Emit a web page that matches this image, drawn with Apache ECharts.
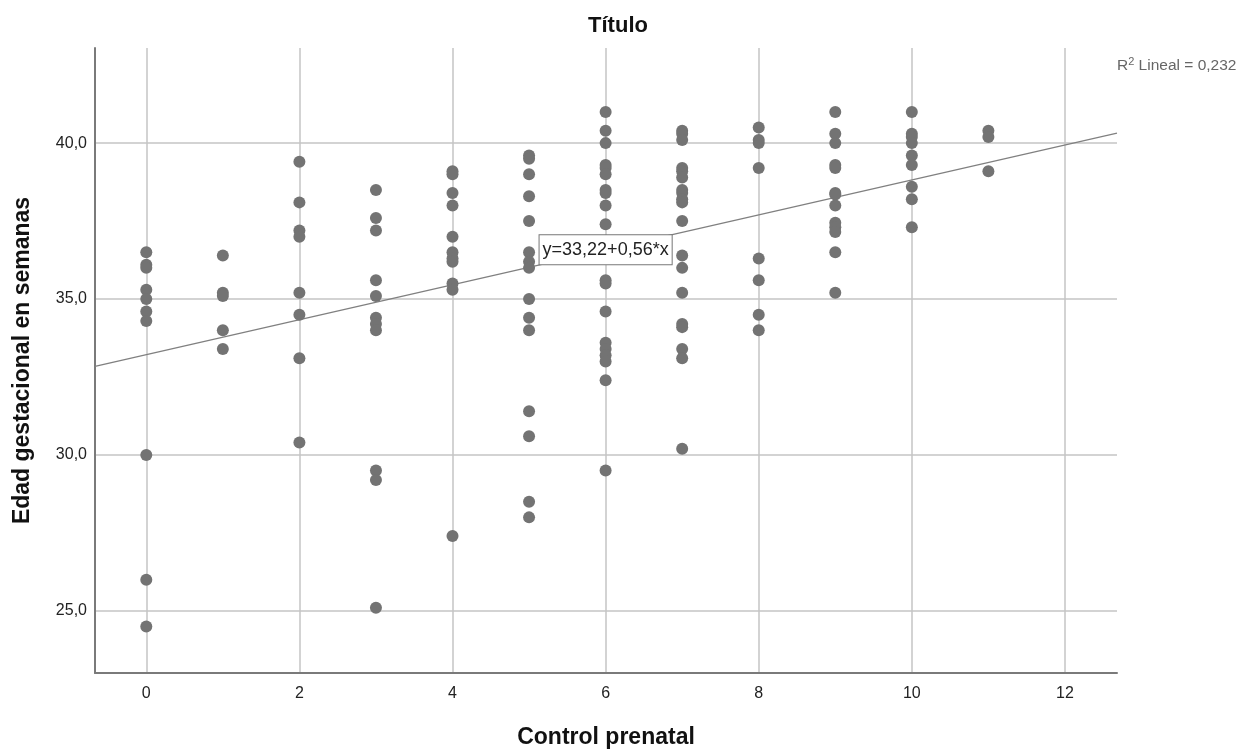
<!DOCTYPE html>
<html>
<head>
<meta charset="utf-8">
<title>Título</title>
<script src="https://cdn.jsdelivr.net/npm/echarts@6/dist/echarts.min.js"></script>
<style>
  html, body { margin: 0; padding: 0; background: #fff; }
  #main { width: 1258px; height: 751px; }
</style>
</head>
<body>
<div id="main"></div>
<script>
// Control prenatal (numero de controles) y edad gestacional en semanas
const controles = [0, 1, 2, 3, 4, 5, 6, 7, 8, 9, 10, 11];
const edad0 = [36.5, 36.1, 36.0, 35.3, 35.0, 34.6, 34.3, 30.0, 26.0, 24.5];
const edad1 = [36.4, 35.2, 35.1, 34.0, 33.4];
const edad2 = [39.4, 38.1, 37.2, 37.0, 35.2, 34.5, 33.1, 30.4];
const edad3 = [38.5, 37.6, 37.2, 35.6, 35.1, 34.4, 34.2, 34.0, 29.5, 29.2, 25.1];
const edad4 = [39.1, 39.0, 38.4, 38.0, 37.0, 36.5, 36.3, 36.2, 35.5, 35.3, 27.4];
const edad5 = [39.6, 39.5, 39.0, 38.3, 37.5, 36.5, 36.2, 36.0, 35.0, 34.4, 34.0, 31.4, 30.6, 28.5, 28.0];
const edad6 = [41.0, 40.4, 40.0, 39.3, 39.2, 39.0, 38.5, 38.4, 38.0, 37.4, 35.6, 35.5, 34.6, 33.6, 33.4, 33.2, 33.0, 32.4, 29.5];
const edad7 = [40.4, 40.3, 40.1, 39.2, 39.1, 38.9, 38.5, 38.4, 38.2, 38.1, 37.5, 36.4, 36.0, 35.2, 34.2, 34.1, 33.4, 33.1, 30.2];
const edad8 = [40.5, 40.1, 40.0, 39.2, 36.3, 35.6, 34.5, 34.0];
const edad9 = [41.0, 40.3, 40.0, 39.3, 39.2, 38.4, 38.35, 38.0, 37.45, 37.3, 37.15, 36.5, 35.2];
const edad10 = [41.0, 40.3, 40.2, 40.0, 39.6, 39.3, 38.6, 38.2, 37.3];
const edad11 = [40.4, 40.2, 39.1];
const edadPorControl = [edad0, edad1, edad2, edad3, edad4, edad5, edad6, edad7, edad8, edad9, edad10, edad11];

// recta de ajuste lineal
const intercepto = 33.22;
const pendiente = 0.56;
const r2 = '0,232';
const xMin = -0.67, xMax = 12.68;
const yMin = 23.01, yMax = 43.05;

const puntos = [];
controles.forEach(function (c, i) {
  edadPorControl[i].forEach(function (v) { puntos.push([c, v]); });
});
const recta = [xMin, xMax].map(function (x) { return [x, intercepto + pendiente * x]; });

const fmtComa = function (v) { return v.toFixed(1).replace('.', ','); };
const fuente = 'Liberation Sans, Arial, sans-serif';

const chart = echarts.init(document.getElementById('main'));
chart.setOption({
  animation: false,
  textStyle: { fontFamily: fuente },
  title: {
    text: 'Título',
    left: 613,
    top: 10,
    textAlign: 'center',
    textStyle: { fontSize: 22, fontWeight: 'bold', color: '#111', fontFamily: fuente }
  },
  graphic: [{
    type: 'text',
    left: 1117,
    top: 56,
    style: {
      text: '{a|R}{b|2}{a| Lineal = ' + r2 + '}',
      rich: {
        a: { fontSize: 15.5, fill: '#666', fontFamily: fuente },
        b: { fontSize: 11, fill: '#666', padding: [0, 0, 8, 0], fontFamily: fuente }
      }
    }
  }],
  grid: { left: 95, right: 141, top: 48, bottom: 78, outerBoundsMode: 'none' },
  xAxis: {
    type: 'value',
    min: xMin,
    max: xMax,
    splitNumber: 7,
    name: 'Control prenatal',
    nameLocation: 'middle',
    nameGap: 53,
    nameTextStyle: { fontSize: 23, fontWeight: 'bold', color: '#111' },
    axisLine: { show: true, onZero: false, lineStyle: { color: '#7a7a7a', width: 2 } },
    axisTick: { show: false },
    axisLabel: { color: '#222', fontSize: 16, margin: 13, showMinLabel: false, showMaxLabel: false },
    splitLine: { show: true, showMinLine: false, showMaxLine: false, lineStyle: { color: '#c4c4c4', width: 1.5 } }
  },
  yAxis: {
    type: 'value',
    min: yMin,
    max: yMax,
    splitNumber: 4,
    name: 'Edad gestacional en semanas',
    nameLocation: 'middle',
    nameGap: 61,
    nameTextStyle: { fontSize: 23, fontWeight: 'bold', color: '#111' },
    axisLine: { show: true, onZero: false, lineStyle: { color: '#7a7a7a', width: 2 } },
    axisTick: { show: false },
    axisLabel: { color: '#222', fontSize: 16, margin: 8, formatter: fmtComa, showMinLabel: false, showMaxLabel: false },
    splitLine: { show: true, showMinLine: false, showMaxLine: false, lineStyle: { color: '#c4c4c4', width: 1.5 } }
  },
  series: [
    {
      name: 'ajuste',
      type: 'line',
      data: recta,
      showSymbol: false,
      symbol: 'none',
      z: 2,
      lineStyle: { color: '#808080', width: 1.3 },
      markPoint: {
        symbol: 'rect',
        symbolSize: 0,
        silent: true,
        data: [{
          coord: [6, intercepto + pendiente * 6],
          label: {
            show: true,
            position: 'inside',
            formatter: 'y=33,22+0,56*x',
            color: '#222',
            fontSize: 18,
            backgroundColor: '#fff',
            borderColor: '#777',
            borderWidth: 1,
            padding: [6, 3, 5, 3]
          }
        }]
      }
    },
    {
      name: 'edad',
      type: 'scatter',
      data: puntos,
      symbolSize: 12,
      z: 3,
      itemStyle: { color: '#737373', opacity: 1 }
    }
  ]
});
</script>
</body>
</html>
